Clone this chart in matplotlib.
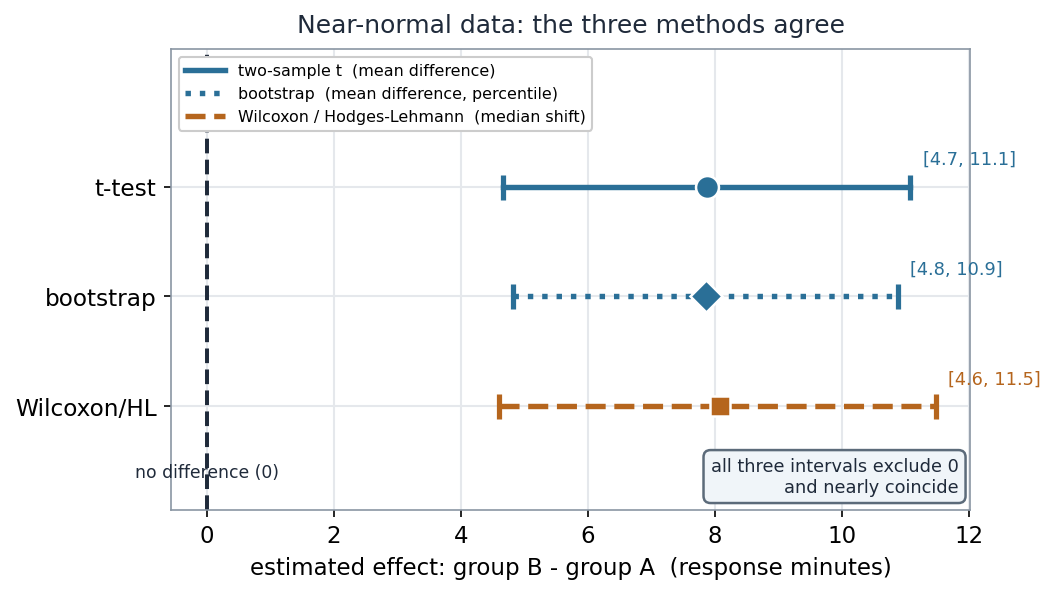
import matplotlib.pyplot as plt

methods = ['t-test', 'bootstrap', 'Wilcoxon/HL']
estimates = [7.87, 7.86, 8.08]
lows = [4.66, 4.82, 4.60]
highs = [11.08, 10.88, 11.48]
ci_text = ['[4.7, 11.1]', '[4.8, 10.9]', '[4.6, 11.5]']
legend_labels = ['two-sample t  (mean difference)',
                 'bootstrap  (mean difference, percentile)',
                 'Wilcoxon / Hodges-Lehmann  (median shift)']

colors = ['#2a6f97', '#2a6f97', '#b5651d']
styles = ['-', ':', '--']
markers = ['o', 'D', 's']
msizes = [11, 11, 10]
dark = '#1f2a3a'

fig = plt.figure(figsize=(7.04, 3.973), dpi=150)
ax = fig.add_axes([0.162, 0.143, 0.757, 0.773])

# reference line at zero
ax.axvline(0, color=dark, ls='--', lw=1.9, zorder=2)

for i in range(len(methods)):
    c = colors[i]
    ax.plot([lows[i], highs[i]], [i, i], ls=styles[i], lw=2.6, color=c,
            label=legend_labels[i], zorder=3)
    ax.plot([lows[i], highs[i]], [i, i], ls='none', marker='|', ms=12,
            mew=2.5, color=c, zorder=3)
    ax.plot(estimates[i], i, marker=markers[i], ms=msizes[i], color=c,
            mec='white', mew=1.2, ls='none', zorder=4)
    ax.annotate(ci_text[i], (highs[i], i), xytext=(6, 9),
                textcoords='offset points', ha='left', va='bottom',
                fontsize=8.5, color=c)

ax.text(0, 2.6, 'no difference (0)', ha='center', va='center',
        fontsize=8.3, color=dark)
ax.text(0.985, 0.03, 'all three intervals exclude 0\nand nearly coincide',
        transform=ax.transAxes, ha='right', va='bottom', fontsize=8.5,
        color=dark, multialignment='right',
        bbox=dict(boxstyle='round,pad=0.4', fc='#f0f5f9', ec='#5c6b7a', lw=1.2))

ax.set_xlim(-0.57, 12.03)
ax.set_ylim(2.94, -1.25)
ax.set_yticks(range(len(methods)))
ax.set_yticklabels(methods, fontsize=11.2)
ax.set_xticks([0, 2, 4, 6, 8, 10, 12])
ax.tick_params(axis='x', labelsize=11)
ax.grid(True, color='#e5e8ec', lw=1)
ax.set_axisbelow(True)
for s in ax.spines.values():
    s.set_color('#8a96a3')

ax.set_xlabel('estimated effect: group B - group A  (response minutes)',
              fontsize=11, color='black')
ax.set_title('Near-normal data: the three methods agree', fontsize=12,
             color=dark, pad=8)
ax.legend(loc='upper left', fontsize=7.6, handlelength=2.5, framealpha=1,
          edgecolor='#cccccc')

fig.savefig('out.png', dpi=150)
